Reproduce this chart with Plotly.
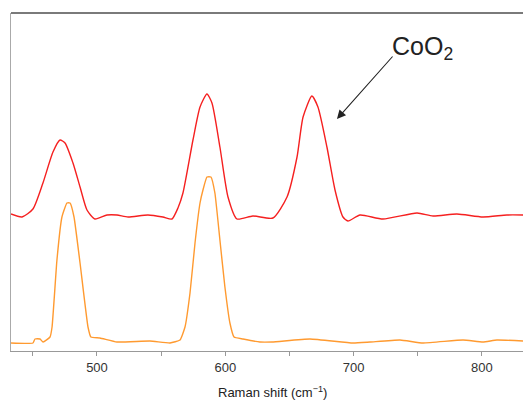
import plotly.graph_objects as go

# Raman shift (cm^-1) and intensity (arbitrary units)
red_shift = [433.0, 441.6, 450.1, 457.9, 465.7, 471.2, 475.1, 481.3, 486.8, 492.2, 498.4, 507.8,
             515.6, 524.2, 539.7, 551.4, 558.4, 563.1, 567.0, 574.8, 580.3, 585.7, 589.6, 595.8,
             602.1, 609.1, 621.5, 637.1, 648.1, 655.9, 660.6, 667.5, 672.2, 679.2, 685.5, 691.7,
             695.6, 705.0, 722.9, 749.4, 761.9, 780.5, 800.8, 819.5, 832.0]
red_int = [137, 134, 142, 168, 199, 211, 208, 188, 164, 141, 132, 136,
           136, 134, 136, 134, 132, 143, 158, 211, 244, 257, 248, 204,
           154, 132, 135, 133, 154, 194, 234, 255, 244, 204, 161, 134,
           130, 136, 132, 138, 135, 137, 134, 136, 136]

orange_shift = [433.0, 450.1, 451.7, 455.6, 458.0, 463.4, 465.0, 468.8, 472.7, 476.6, 479.0, 482.1,
                486.8, 493.0, 495.3, 502.3, 515.6, 541.3, 556.9, 564.7, 568.6, 572.5, 576.4, 580.3,
                582.6, 585.7, 588.8, 591.9, 595.8, 599.7, 603.6, 606.8, 613.8, 627.0, 636.4, 666.0,
                699.5, 712.8, 736.1, 754.1, 785.3, 800.8, 811.7, 832.0]
orange_int = [8, 8, 12, 12, 9, 14, 24, 91, 134, 148, 148, 134,
              88, 24, 14, 13, 9, 10, 8, 11, 24, 58, 108, 148,
              161, 174, 174, 158, 111, 64, 28, 14, 12, 9, 9, 12,
              8, 9, 11, 8, 11, 9, 11, 10]

x_ticks = [500, 600, 700, 800]

fig = go.Figure()
fig.add_trace(go.Scatter(x=red_shift, y=red_int, mode="lines",
                         line=dict(color="#f52020", width=1.4, shape="spline", smoothing=0.6),
                         showlegend=False, hoverinfo="skip"))
fig.add_trace(go.Scatter(x=orange_shift, y=orange_int, mode="lines",
                         line=dict(color="#ff9a30", width=1.4, shape="spline", smoothing=0.4),
                         showlegend=False, hoverinfo="skip"))

# arrow
fig.add_annotation(x=687, y=232, ax=731.4, ay=296, xref="x", yref="y", axref="x", ayref="y",
                   text="", showarrow=True, arrowhead=2, arrowsize=1.6, arrowwidth=1.1,
                   arrowcolor="#222")
fig.add_annotation(x=754, y=303, xref="x", yref="y", text="CoO<sub>2</sub>", showarrow=False,
                   xanchor="center", yanchor="middle",
                   font=dict(family="Liberation Sans, Arial", size=25, color="#222"))
# axis title
fig.add_annotation(x=637, y=-0.122, xref="x", yref="paper", text="Raman shift (cm<sup>−1</sup>)",
                   showarrow=False, xanchor="center", yanchor="middle",
                   font=dict(family="Liberation Sans, Arial", size=13, color="#222"))
# top border
fig.add_shape(type="line", xref="paper", yref="paper", x0=0, x1=1, y0=1, y1=1,
              line=dict(color="#7a7a7a", width=2))

fig.update_layout(
    width=523, height=400,
    margin=dict(l=11, r=0, t=13, b=49),
    paper_bgcolor="white", plot_bgcolor="white",
    font=dict(family="Liberation Sans, Arial", size=13, color="#333"),
    xaxis=dict(range=[433, 832], tickvals=x_ticks, ticks="outside", ticklen=4, tickcolor="#999",
               showline=True, linecolor="#999", linewidth=1, showgrid=False, zeroline=False,
               minor=dict(ticks="outside", ticklen=4, tickcolor="#999", dtick=50, tick0=0),
               tickfont=dict(size=13, color="#333")),
    yaxis=dict(range=[0, 338], showticklabels=False, ticks="", showline=True, linecolor="#aaa",
               linewidth=1, showgrid=False, zeroline=False),
)

fig.write_html("out.html", config={"displayModeBar": False},
               post_script="document.body.style.margin='0';document.body.style.overflow='hidden';")
